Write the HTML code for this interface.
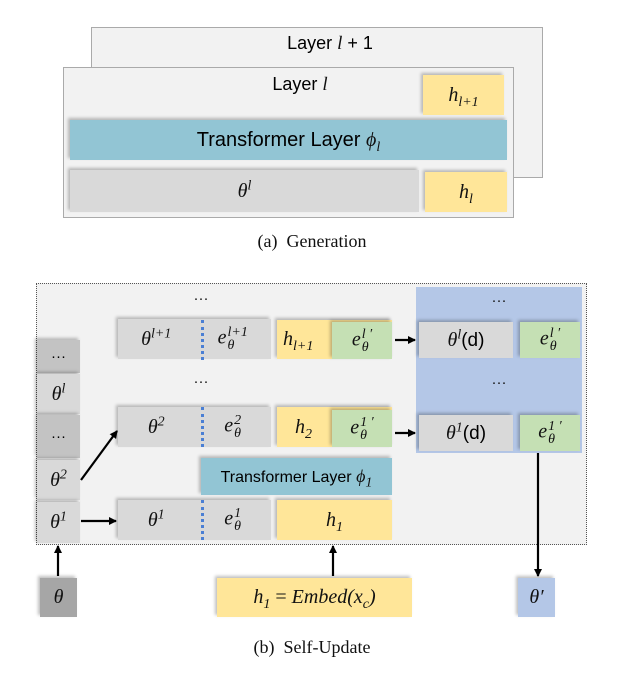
<!DOCTYPE html>
<html><head><meta charset="utf-8"><style>
body{margin:0;width:624px;height:690px;background:#fff;position:relative;overflow:hidden;font-family:"Liberation Sans",sans-serif;}
div{position:absolute;box-sizing:border-box;}
.b{display:flex;align-items:center;justify-content:center;box-shadow:-2px -2px 3px rgba(0,0,0,0.25);}
.g{background:#d9d9d9}.y{background:#ffe699}.gr{background:#c5e0b4}.t{background:#92c5d4}.dk{background:#c3c3c3}.bl{background:#b4c7e7}
.m{font-family:"Liberation Serif",serif;font-style:italic;font-size:20px;color:#111}
.m sup,.m sub{font-size:14px;line-height:0}
.ss{display:inline-flex;flex-direction:column;font-size:14px;line-height:13px;vertical-align:middle;margin-left:1px}
.cap{font-family:"Liberation Serif",serif;font-size:18px;color:#111;width:624px;text-align:center}
.dots{font-size:15px;color:#111;width:40px;text-align:center}
</style></head><body>
<div style="left:91px;top:27px;width:452px;height:151px;background:#f2f2f2;border:1px solid #aaa"></div>
<div style="left:91px;top:33px;width:478px;text-align:center;font-size:18px">Layer <span class="m" style="font-size:19px">l</span> + 1</div>
<div style="left:63px;top:67px;width:451px;height:151px;background:#f2f2f2;border:1px solid #aaa"></div>
<div style="left:230px;top:74px;width:140px;text-align:center;font-size:18px">Layer <span class="m" style="font-size:19px">l</span></div>
<div class="b y m" style="left:423px;top:75px;width:81px;height:40px"><span>h<sub>l+1</sub></span></div>
<div class="b t" style="left:70px;top:120px;width:437px;height:40px;font-size:20px"><span>Transformer Layer <span class="m">ϕ<sub>l</sub></span></span></div>
<div class="b g m" style="left:70px;top:170px;width:349px;height:42px"><span>θ<sup>l</sup></span></div>
<div class="b y m" style="left:425px;top:172px;width:82px;height:40px"><span>h<sub>l</sub></span></div>
<div class="cap" style="left:0;top:231px">(a)&nbsp; Generation</div>

<div style="left:36px;top:283px;width:551px;height:262px;background:#f2f2f2;border:1px dotted #555"></div>
<div style="left:416px;top:287px;width:166px;height:166px;background:#b4c7e7"></div>
<div class="dots" style="left:181px;top:290px">···</div>
<div class="dots" style="left:181px;top:373px">···</div>
<div class="dots" style="left:479px;top:292px">···</div>
<div class="dots" style="left:479px;top:374px">···</div>

<div class="b dk" style="left:37px;top:340px;width:43px;height:33px;font-size:15px">···</div>
<div class="b g m" style="left:37px;top:374px;width:43px;height:40px"><span>θ<sup>l</sup></span></div>
<div class="b dk" style="left:37px;top:415px;width:43px;height:43px;font-size:15px">···</div>
<div class="b g m" style="left:37px;top:460px;width:43px;height:40px"><span>θ<sup>2</sup></span></div>
<div class="b g m" style="left:37px;top:502px;width:43px;height:41px"><span>θ<sup>1</sup></span></div>

<div class="b g m" style="left:118px;top:319px;width:153px;height:40px;justify-content:space-around">
<span>θ<sup>l+1</sup></span><span>e<span class="ss"><span>l+1</span><span>θ</span></span></span></div>
<div class="b y m" style="left:277px;top:320px;width:115px;height:39px;justify-content:flex-start;padding-left:6px"><span>h<sub>l+1</sub></span></div>
<div class="b gr m" style="left:332px;top:322px;width:60px;height:37px"><span>e<span class="ss"><span>l ′</span><span>θ</span></span></span></div>
<div class="b g m" style="left:118px;top:407px;width:153px;height:40px;justify-content:space-around">
<span>θ<sup>2</sup></span><span>e<span class="ss"><span>2</span><span>θ</span></span></span></div>
<div class="b y m" style="left:277px;top:407px;width:115px;height:40px;justify-content:flex-start;padding-left:18px"><span>h<sub>2</sub></span></div>
<div class="b gr m" style="left:332px;top:410px;width:60px;height:37px"><span>e<span class="ss"><span>1 ′</span><span>θ</span></span></span></div>
<div class="b t" style="left:201px;top:458px;width:191px;height:37px;font-size:16px"><span>Transformer Layer <span class="m" style="font-size:18px">ϕ<sub>1</sub></span></span></div>
<div class="b g m" style="left:118px;top:500px;width:153px;height:40px;justify-content:space-around">
<span>θ<sup>1</sup></span><span>e<span class="ss"><span>1</span><span>θ</span></span></span></div>
<div class="b y m" style="left:277px;top:500px;width:115px;height:40px"><span>h<sub>1</sub></span></div>

<div style="left:201px;top:320px;height:40px;border-left:3px dotted #4a7fd4"></div>
<div style="left:201px;top:407px;height:40px;border-left:3px dotted #4a7fd4"></div>
<div style="left:201px;top:500px;height:40px;border-left:3px dotted #4a7fd4"></div>

<div class="b g" style="left:419px;top:322px;width:94px;height:36px;font-size:19px"><span><span class="m">θ<sup>l</sup></span>(d)</span></div>
<div class="b gr m" style="left:520px;top:322px;width:60px;height:36px"><span>e<span class="ss"><span>l ′</span><span>θ</span></span></span></div>
<div class="b g" style="left:419px;top:415px;width:94px;height:36px;font-size:19px"><span><span class="m">θ<sup>1</sup></span>(d)</span></div>
<div class="b gr m" style="left:520px;top:415px;width:60px;height:36px"><span>e<span class="ss"><span>1 ′</span><span>θ</span></span></span></div>

<div class="b" style="left:40px;top:578px;width:37px;height:39px;background:#a6a6a6"><span class="m">θ</span></div>
<div class="b y m" style="left:217px;top:578px;width:195px;height:39px"><span>h<sub>1</sub> <span style="font-style:normal">=</span> Embed(x<sub>c</sub>)</span></div>
<div class="b bl m" style="left:518px;top:578px;width:37px;height:39px"><span>θ′</span></div>
<div class="cap" style="left:0;top:637px">(b)&nbsp; Self-Update</div>
<svg width="624" height="690" style="position:absolute;left:0;top:0">
<defs><marker id="a" markerWidth="8" markerHeight="8" refX="7" refY="4" orient="auto" markerUnits="userSpaceOnUse"><path d="M0,0 L8,4 L0,8 z" fill="#000"/></marker></defs>
<g stroke="#000" stroke-width="2.2" fill="none" marker-end="url(#a)">
<line x1="81" y1="480" x2="117" y2="431"/>
<line x1="81" y1="521" x2="116" y2="521"/>
<line x1="395" y1="340" x2="415" y2="340"/>
<line x1="395" y1="433" x2="415" y2="433"/>
<line x1="538" y1="453" x2="538" y2="576"/>
<line x1="58" y1="576" x2="58" y2="546"/>
<line x1="333" y1="576" x2="333" y2="546"/>
</g></svg>
</body></html>
